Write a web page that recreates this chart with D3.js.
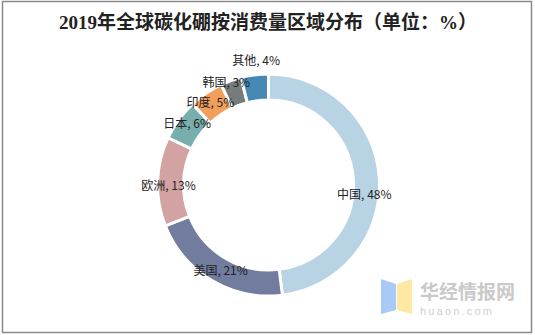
<!DOCTYPE html>
<html><head><meta charset="utf-8">
<script src="https://cdn.jsdelivr.net/npm/d3@7"></script>
<style>
html,body{margin:0;padding:0;background:#fff;}
svg{display:block;}
</style></head>
<body>
<script>
const categories = ["中国","美国","欧洲","日本","印度","韩国","其他"];
const values = [48,21,13,6,5,3,4];
const colors = ["#b7d3e4","#717c9f","#d3a3a3","#78afae","#f39f5c","#767b7b","#4589b4"];
const title = "2019年全球碳化硼按消费量区域分布（单位：%）";

const W = 535, H = 335;
const cx = 268.5, cy = 185, rOuter = 111, rInner = 85;
const svg = d3.select("body").append("svg").attr("width", W).attr("height", H);

svg.append("rect").attr("x",2.5).attr("y",1.5).attr("width",529).attr("height",331)
  .attr("fill","#fff").attr("stroke","#8a8a8a").attr("stroke-width",1.5);

svg.append("text").attr("x", 268).attr("y", 29).attr("text-anchor","middle")
  .attr("font-family","'Liberation Serif','Noto Sans CJK SC',serif")
  .attr("font-weight","bold").attr("font-size",19).attr("fill","#222")
  .text(title);

const data = categories.map((c,i)=>({name:c, value:values[i], color:colors[i]}));
const pie = d3.pie().value(d=>d.value).sort(null);
const arc = d3.arc().innerRadius(rInner).outerRadius(rOuter);
const labelArc = d3.arc().innerRadius(98).outerRadius(98);
const arcs = pie(data);

const g = svg.append("g").attr("transform",`translate(${cx},${cy})`);
g.selectAll("path").data(arcs).join("path")
  .attr("d",arc).attr("fill",d=>d.data.color)
  .attr("stroke","#fff").attr("stroke-width",3);

// label adjustments similar to the reference's best-fit placement
const nudge = {"中国":[-2,15],"美国":[2,0],"欧洲":[-2,3],"日本":[-2,-5],"印度":[-3,-2],"韩国":[-9,-11],"其他":[0,-28]};
g.selectAll("text.lbl").data(arcs).join("text").attr("class","lbl")
  .attr("transform",d=>{const c=labelArc.centroid(d);const n=nudge[d.data.name]||[0,0];return `translate(${c[0]+n[0]},${c[1]+n[1]})`;})
  .attr("text-anchor","middle").attr("dominant-baseline","central")
  .attr("font-family","'Noto Sans CJK SC','Liberation Sans',sans-serif")
  .attr("font-size",12).attr("fill","#222")
  .text(d=>`${d.data.name}, ${d.data.value}%`);

// watermark
const wm = svg.append("g");
wm.append("path").attr("d","M381,279 L396,284 L396,310 L381,314 Z").attr("fill","#a9c9f7");
wm.append("path").attr("d","M397,284 L412,279 L412,314 L397,310 Z").attr("fill","#fde8a4");
wm.append("text").attr("x",420).attr("y",299).attr("font-family","'Noto Sans CJK SC',sans-serif")
  .attr("font-weight","bold").attr("font-size",19).attr("fill","#c9c9c9").text("华经情报网");
wm.append("text").attr("x",420).attr("y",315).attr("font-family","'Liberation Sans',sans-serif")
  .attr("font-size",11).attr("letter-spacing",2.2).attr("fill","#cfcfcf").text("huaon.com");
</script>
</body></html>
